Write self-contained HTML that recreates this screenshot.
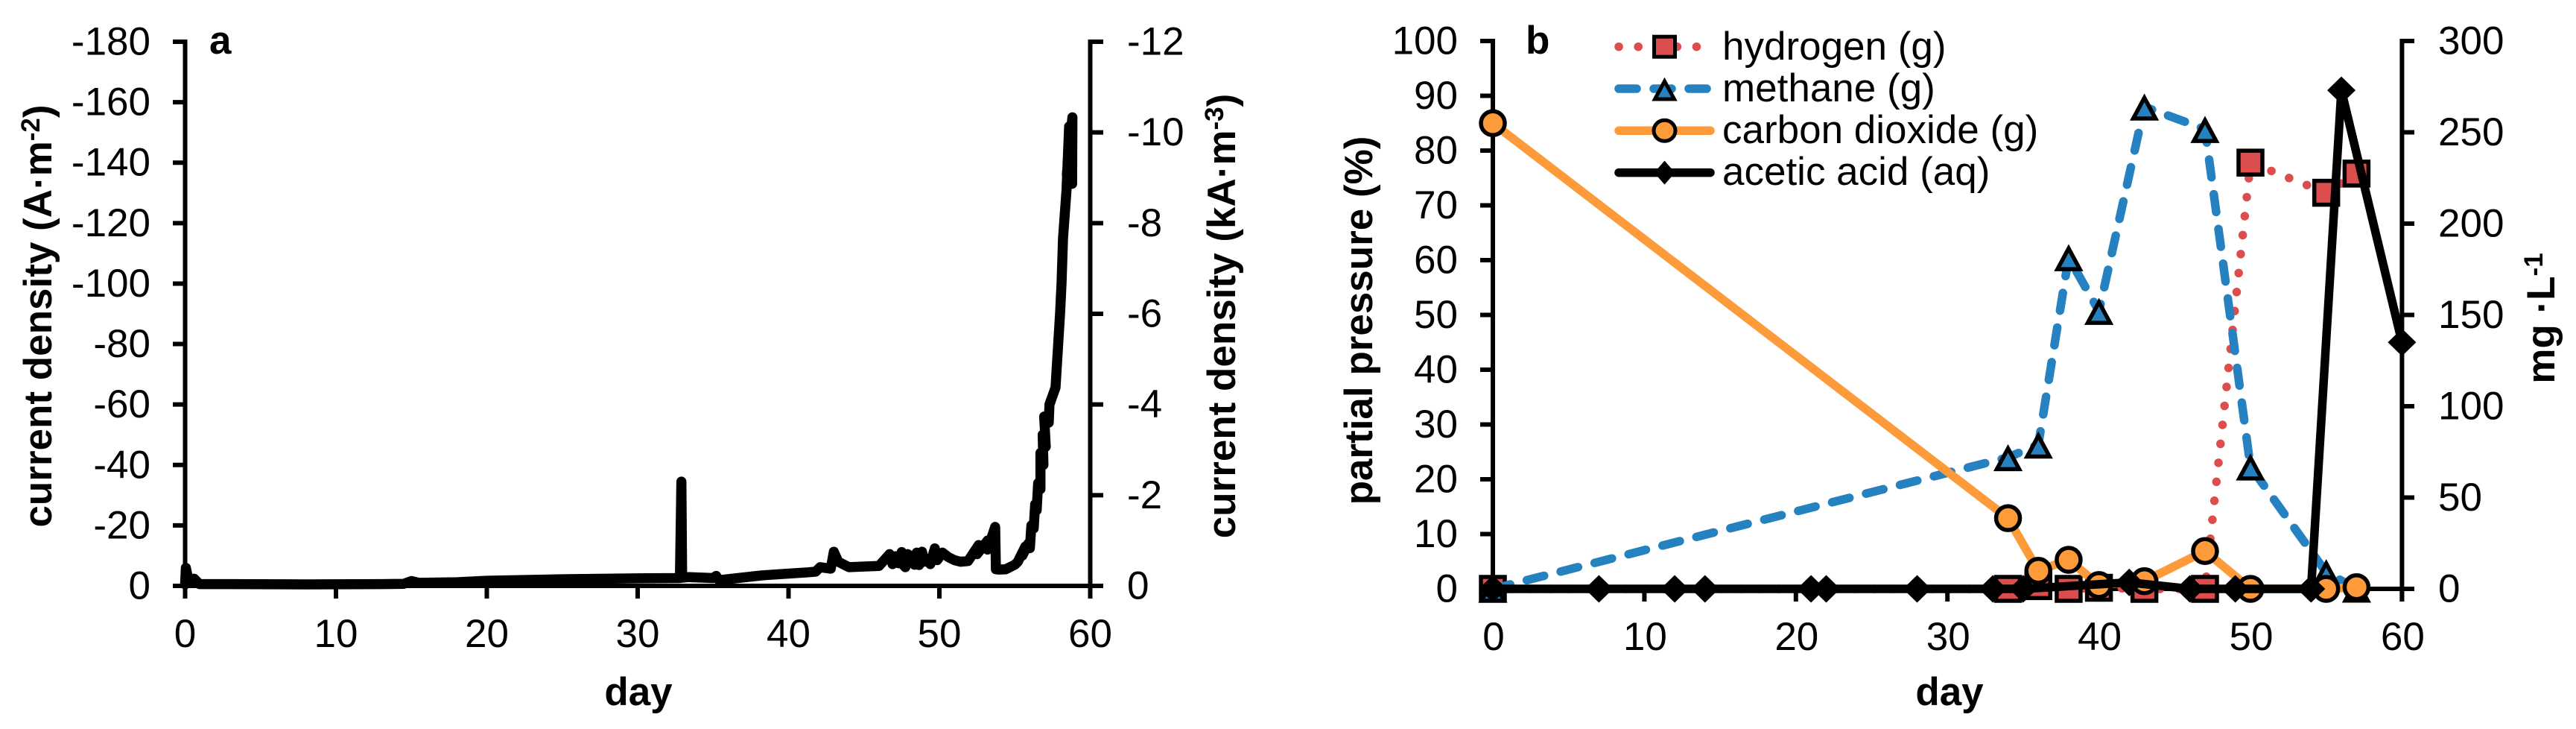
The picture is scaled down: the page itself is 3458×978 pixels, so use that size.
<!DOCTYPE html>
<html lang="en">
<head>
<meta charset="utf-8">
<title>Current density and gas composition over time</title>
<style>
html,body{margin:0;padding:0;background:#fff;}
svg{display:block;}
text{font-family:"Liberation Sans",Arial,sans-serif;font-size:53px;fill:#000;}
.b{font-weight:bold;}
</style>
</head>
<body>
<svg id="fig" xmlns="http://www.w3.org/2000/svg" width="3458" height="978" viewBox="0 0 3458 978">
  <rect width="3458" height="978" fill="#fff"/>
  <g id="panelA"></g>
  <g id="panelB"></g>

  <text class="b" x="281" y="72">a</text>
  <text class="b" x="2048" y="72">b</text>

  <text class="b" x="857" y="946" text-anchor="middle">day</text>
  <text class="b" x="2617" y="946" text-anchor="middle">day</text>

  <text class="b" transform="translate(69,424) rotate(-90)" text-anchor="middle">current density (A·m<tspan font-size="35" dy="-16">-2</tspan><tspan dy="16">)</tspan></text>
  <text class="b" transform="translate(1658,424) rotate(-90)" text-anchor="middle">current density (kA·m<tspan font-size="35" dy="-16">-3</tspan><tspan dy="16">)</tspan></text>
  <text class="b" transform="translate(1842,430) rotate(-90)" text-anchor="middle">partial pressure (%)</text>
  <text class="b" transform="translate(3429,427) rotate(-90)" text-anchor="middle">mg ·L<tspan font-size="35" dy="-16">-1</tspan></text>

  <g id="legend"></g>
</svg>
<script>
// ---------- Panel a data ----------
const currentDays = [0,0.05,0.25,0.6,0.95,3,8,13,14.5,15,15.5,18,20,25,30,32.8,32.9,32.95,33.4,35,35.2,35.4,38.3,41.3,41.8,42.1,42.8,43,43.3,44,46,46.7,46.9,47.1,47.3,47.5,47.6,47.75,47.9,48.05,48.2,48.35,48.5,48.65,48.85,49,49.2,49.4,49.7,49.85,50.2,50.6,51,51.4,51.9,52.6,52.5,53.2,53.2,53.7,53.75,53.9,54.4,55,55.2,55.7,55.5,55.9,56,56.1,56.25,56.35,56.45,56.55,56.7,56.7,56.9,56.85,57.05,56.95,57.25,57.3,57.7,57.85,58,58.1,58.2,58.43,58.6,58.8,58.82,58.5,58.7,58.45,58.75];
const currentValues = [0.5,6,1,2.4,0.6,0.6,0.5,0.6,0.7,1.6,1,1.2,1.7,2.2,2.5,2.6,34.5,2.7,2.9,2.6,3.3,1.9,3.5,4.5,4.7,6.2,5.7,11.3,8,6.2,6.6,10.5,7.2,9.8,7.5,11.2,7,6.2,10.5,8,9.5,7,11,6.9,11.3,8,9,7.2,12.4,8.5,11,9.5,8.5,8,8.2,13.5,10.5,15,12,19.5,5.5,5.4,5.5,7,8,13,10,14,12.5,20,19,27,25,34,32,44,40,50,46,56,54,60,65.6,78,90,100,115,131,152,133,155,140,150,136,152];
const leftTicksA = [0,-20,-40,-60,-80,-100,-120,-140,-160,-180];
const rightTicksA = [0,-2,-4,-6,-8,-10,-12];
const xTicks = [0,10,20,30,40,50,60];

// ---------- Panel b data ----------
const hydrogenDays = [0,34,36,38,40,43,47,50,55,57];
const hydrogenValues = [0,0,0.5,0,0.2,0,0,77.8,72.3,75.8];
const methaneDays = [0,34,36,38,40,43,47,50,55,57];
const methaneValues = [0,24,26.3,60.5,50.7,88,83.9,22.3,3,0];
const co2Days = [0,34,36,38,40,43,47,50,55,57];
const co2Values = [85,12.9,3.3,5.3,0.7,1.4,6.9,0,0,0.3];
const aceticDays = [0,7,12,14,21,22,28,33,35,42,46,49,54,56,60];
const aceticValues = [0,0,0,0,0,0,0,0,0,3.5,0,0,0,273,135];
const leftTicksB = [0,10,20,30,40,50,60,70,80,90,100];
const rightTicksB = [0,50,100,150,200,250,300];
const legendLabels = ["hydrogen (g)","methane (g)","carbon dioxide (g)","acetic acid (aq)"];

// ---------- Axis functions ----------
const xA = d => 248.5 + d * 20.25;
const yA = v => 786 + v * (730 / 180);
const yA2 = v => 786 + v * (730 / 12);
const xB = d => 2004 + d * 20.34;
const yB = v => 790 - v * 7.35;
const yB2 = v => 790 - v * 2.45;

const NS = 'http://www.w3.org/2000/svg';
function mk(parent, tag, attrs, txt) {
  const el = document.createElementNS(NS, tag);
  for (const k in attrs) el.setAttribute(k, attrs[k]);
  if (txt !== undefined) el.textContent = txt;
  parent.appendChild(el);
  return el;
}
function pts(days, vals, fx, fy) {
  return days.map((d, i) => fx(d).toFixed(1) + ',' + fy(vals[i]).toFixed(1)).join(' ');
}
const RED = '#DC4E4E', BLUE = '#2681C1', ORANGE = '#FD9A39';
const AX = {stroke:'#000', 'stroke-width':6, fill:'none'};

// ---------- Panel a ----------
const A = document.getElementById('panelA');
let el;
el = mk(A, 'line', Object.assign({x1:xA(0), x2:xA(0), y1:yA(-180)-3, y2:803}, AX));


el = mk(A, 'line', Object.assign({x1:xA(60), x2:xA(60), y1:yA(-180)-3, y2:803}, AX));


el = mk(A, 'line', Object.assign({x1:232, x2:1481, y1:yA(0), y2:yA(0)}, AX));



leftTicksA.forEach(t => {
  el = mk(A, 'line', Object.assign({x1:232, x2:xA(0), y1:yA(t), y2:yA(t)}, AX));
  
  
  el = mk(A, 'text', {x:202, y:yA(t)+17.5, 'text-anchor':'end'}, String(t));
  
  
});
rightTicksA.forEach(t => {
  el = mk(A, 'line', Object.assign({x1:xA(60), x2:1481, y1:yA2(t), y2:yA2(t)}, AX));
  
  
  el = mk(A, 'text', {x:1513, y:yA2(t)+17.5}, String(t));
  
  
});
xTicks.forEach(t => {
  el = mk(A, 'line', Object.assign({x1:xA(t), x2:xA(t), y1:yA(0), y2:803}, AX));
  
  
  el = mk(A, 'text', {x:xA(t), y:868, 'text-anchor':'middle'}, String(t));
  
  
});
el = mk(A, 'polyline', {points:pts(currentDays, currentValues.map(v => -v), xA, yA), fill:'none', stroke:'#000', 'stroke-width':13.5, 'stroke-linejoin':'round', 'stroke-linecap':'round'});



// ---------- Panel b ----------
const B = document.getElementById('panelB');
el = mk(B, 'line', Object.assign({x1:xB(0), x2:xB(0), y1:yB(100)-3, y2:807}, AX));


el = mk(B, 'line', Object.assign({x1:xB(60), x2:xB(60), y1:yB(100)-3, y2:807}, AX));


el = mk(B, 'line', Object.assign({x1:1987, x2:3241, y1:yB(0), y2:yB(0)}, AX));



leftTicksB.forEach(t => {
  el = mk(B, 'line', Object.assign({x1:1987, x2:xB(0), y1:yB(t), y2:yB(t)}, AX));
  
  
  el = mk(B, 'text', {x:1957, y:yB(t)+17.5, 'text-anchor':'end'}, String(t));
  
  
});
rightTicksB.forEach(t => {
  el = mk(B, 'line', Object.assign({x1:xB(60), x2:3241, y1:yB2(t), y2:yB2(t)}, AX));
  
  
  el = mk(B, 'text', {x:3273, y:yB2(t)+17.5}, String(t));
  
  
});
xTicks.forEach(t => {
  el = mk(B, 'line', Object.assign({x1:xB(t), x2:xB(t), y1:yB(0), y2:807}, AX));
  
  
  el = mk(B, 'text', {x:xB(t)+1, y:872, 'text-anchor':'middle'}, String(t));
  
  
});

// marker shapes
function square(p, cx, cy, s) {
  return mk(p, 'rect', {x:cx-s, y:cy-s, width:2*s, height:2*s, fill:RED, stroke:'#000', 'stroke-width':5.5});
}
function triangle(p, cx, cy) {
  const w = 15, t = 12, b = 15.75;
  return mk(p, 'polygon', {points:(cx-w)+','+(cy+b)+' '+(cx+w)+','+(cy+b)+' '+cx+','+(cy-t), fill:BLUE, stroke:'#000', 'stroke-width':5.5, 'stroke-linejoin':'miter', 'stroke-miterlimit':6});
}
function circle(p, cx, cy, s) {
  return mk(p, 'circle', {cx:cx, cy:cy, r:s, fill:ORANGE, stroke:'#000', 'stroke-width':5.5});
}
function diamond(p, cx, cy, w, h) {
  return mk(p, 'polygon', {points:cx+','+(cy-h)+' '+(cx+w)+','+cy+' '+cx+','+(cy+h)+' '+(cx-w)+','+cy, fill:'#000'});
}

// hydrogen
const gH = mk(B, 'g', {});


el = mk(gH, 'polyline', {points:pts(hydrogenDays, hydrogenValues, xB, yB), fill:'none', stroke:RED, 'stroke-width':11.5, 'stroke-dasharray':'0.1 25.5', 'stroke-linecap':'round', 'stroke-linejoin':'round'});


hydrogenDays.forEach((d, i) => {
  el = square(gH, xB(d), yB(hydrogenValues[i]), 16);
  
  
});

// methane
const gM = mk(B, 'g', {});


el = mk(gM, 'polyline', {points:pts(methaneDays, methaneValues, xB, yB), fill:'none', stroke:BLUE, 'stroke-width':11.5, 'stroke-dasharray':'24 23', 'stroke-linecap':'round', 'stroke-linejoin':'round'});


methaneDays.forEach((d, i) => {
  el = triangle(gM, xB(d), yB(methaneValues[i]));
  
  
});

// carbon dioxide
const gC = mk(B, 'g', {});


el = mk(gC, 'polyline', {points:pts(co2Days, co2Values, xB, yB), fill:'none', stroke:ORANGE, 'stroke-width':11.5, 'stroke-linejoin':'round'});


co2Days.forEach((d, i) => {
  el = circle(gC, xB(d), yB(co2Values[i]), 16);
  
  
});

// acetic acid
const gK = mk(B, 'g', {});


el = mk(gK, 'polyline', {points:pts(aceticDays, aceticValues, xB, yB2), fill:'none', stroke:'#000', 'stroke-width':11.5, 'stroke-linejoin':'round'});


aceticDays.forEach((d, i) => {
  el = diamond(gK, xB(d), yB2(aceticValues[i]), 19, 18.5);
  
  
});

// ---------- Legend ----------
const L = document.getElementById('legend');
const rowY = i => 62.7 + i * 56.3;
const baseY = i => 80 + i * 56;
legendLabels.forEach((label, i) => {
  el = mk(L, 'text', {x:2312, y:baseY(i)}, label);
  
  
});
el = mk(L, 'line', {x1:2173, x2:2280, y1:rowY(0), y2:rowY(0), stroke:RED, 'stroke-width':11.5, 'stroke-dasharray':'0.1 26', 'stroke-linecap':'round'});


el = mk(L, 'rect', {x:2220.5, y:rowY(0)-13.5, width:28, height:27, fill:RED, stroke:'#000', 'stroke-width':5});


el = mk(L, 'line', {x1:2173, x2:2292, y1:rowY(1), y2:rowY(1), stroke:BLUE, 'stroke-width':11.5, 'stroke-dasharray':'24 23', 'stroke-linecap':'round'});


el = mk(L, 'polygon', {points:[2234.5-13, rowY(1)+14, 2234.5+13, rowY(1)+14, 2234.5, rowY(1)-10].join(' '), fill:BLUE, stroke:'#000', 'stroke-width':5, 'stroke-miterlimit':6});


el = mk(L, 'line', {x1:2173, x2:2296, y1:rowY(2), y2:rowY(2), stroke:ORANGE, 'stroke-width':11.5, 'stroke-linecap':'round'});


el = mk(L, 'ellipse', {cx:2234.5, cy:rowY(2), rx:14.5, ry:14, fill:ORANGE, stroke:'#000', 'stroke-width':5});


el = mk(L, 'line', {x1:2173, x2:2296, y1:rowY(3), y2:rowY(3), stroke:'#000', 'stroke-width':11.5, 'stroke-linecap':'round'});


el = diamond(L, 2234.5, rowY(3), 14, 16);


</script>
</body>
</html>
